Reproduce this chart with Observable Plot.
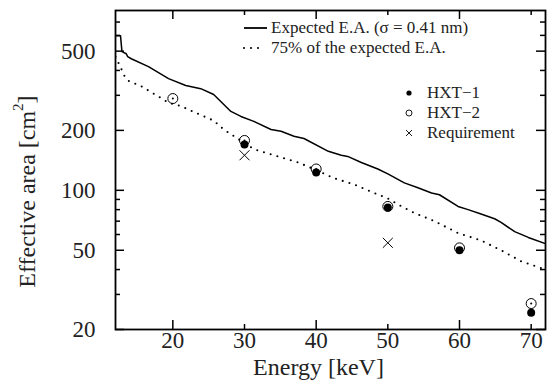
<!DOCTYPE html>
<html><head><meta charset="utf-8">
<script src="https://cdn.jsdelivr.net/npm/d3@7"></script>
<script src="https://cdn.jsdelivr.net/npm/@observablehq/plot@0.6"></script>
<style>body{margin:0;background:#fff;} svg{display:block;}</style>
</head><body><div id="chart"></div>
<script>
// Expected effective area (solid line)
const expectedEnergy = [12.0,12.7,12.9,13.5,13.7,14.2,16.6,19.4,21.8,23.9,25.7,28.1,29.5,31.3,33.7,35.1,36.9,38.3,41.7,43.5,44.4,46.3,48.6,50.0,52.3,54.2,56.1,57.2,59.8,61.2,63.0,64.9,65.8,67.7,69.6,72.0];
const expectedArea   = [597,597,497,485,469,458,418,364,336,324,303,249,235,222,202,198,187,182,157,150,148,138,128,121,109,103,97,95,83,80,76,72,69,62,58,54];
// 75% of expected (dotted line)
const reducedEnergy = [12.0,12.8,13.3,13.8,15.6,18.4,19.4,21.1,23.2,25.7,27.1,31.3,34.1,37.5,40.3,42.5,45.3,48.1,50.0,51.9,53.7,56.5,59.8,63.0,65.8,68.6,72.0];
const reducedArea   = [469,408,372,355,333,290,275,265,245,224,202,161,150,138,125,115,107,97,91,83,77,70,61,56,50,44,40];
// Measurements
const hxt1Energy = [30,40,50,60,70];
const hxt1Area   = [170,123,82,50,24.3];
const hxt2Energy = [20,30,40,50,60,70];
const hxt2Area   = [289,178,128,83,51.4,27];
const reqEnergy = [30,50];
const reqArea   = [150,54.5];
// Ticks
const xTickLabels = [20,30,40,50,60,70];
const xMajorTicks = [20,40,60];
const xMinorTicks = [30,50,70];
const yTickLabels = [20,50,100,200,500];
const yMinorTicks = [30,40,60,70,80,90,300,400,600,700];
const legendLines = ["Expected E.A. (σ = 0.41 nm)","75% of the expected E.A."];
const legendPoints = ["HXT−1","HXT−2","Requirement"];

const W = 547, H = 390, mL = 115, mR = 2, mT = 10, mB = 61;
const pW = W - mL - mR, pH = H - mT - mB;
const font = "Liberation Serif";

const expected = expectedEnergy.map((e,i)=>({e, a: expectedArea[i]}));
const reduced = reducedEnergy.map((e,i)=>({e, a: reducedArea[i]}));
const hxt1 = hxt1Energy.map((e,i)=>({e, a: hxt1Area[i]}));
const hxt2 = hxt2Energy.map((e,i)=>({e, a: hxt2Area[i]}));
const req = reqEnergy.map((e,i)=>({e, a: reqArea[i]}));

const tickStyle = {stroke:"black", strokeWidth:1.5};
const svg = Plot.plot({
  width: W, height: H,
  marginLeft: mL, marginRight: mR, marginTop: mT, marginBottom: mB,
  style: {fontFamily: font, background: "white", color: "black"},
  x: {domain: [12,72], axis: null},
  y: {type: "log", domain: [20,800], axis: null},
  marks: [
    Plot.line(expected, {x:"e", y:"a", stroke:"black", strokeWidth:1.5, clip:true}),
    Plot.line(reduced, {x:"e", y:"a", stroke:"black", strokeWidth:2.1, strokeDasharray:"0 7", strokeLinecap:"round", clip:true}),
    Plot.dot(hxt2, {x:"e", y:"a", r:5, stroke:"black", strokeWidth:1, fill:"none"}),
    Plot.dot(hxt2, {x:"e", y:"a", r:1, fill:"black"}),
    Plot.dot(hxt1, {x:"e", y:"a", r:4, fill:"black"}),
    Plot.dot(req, {x:"e", y:"a", symbol:"times", r:4.6, stroke:"black", strokeWidth:1}),
    // ticks
    Plot.tickX(xMajorTicks, {x:d=>d, insetTop: pH-9, ...tickStyle}),
    Plot.tickX(xMajorTicks, {x:d=>d, insetBottom: pH-9, ...tickStyle}),
    Plot.tickX(xMinorTicks, {x:d=>d, insetTop: pH-5, ...tickStyle}),
    Plot.tickX(xMinorTicks, {x:d=>d, insetBottom: pH-5, ...tickStyle}),
    Plot.tickY(yTickLabels, {y:d=>d, insetRight: pW-9, ...tickStyle}),
    Plot.tickY(yTickLabels, {y:d=>d, insetLeft: pW-9, ...tickStyle}),
    Plot.tickY(yMinorTicks, {y:d=>d, insetRight: pW-5, ...tickStyle}),
    Plot.tickY(yMinorTicks, {y:d=>d, insetLeft: pW-5, ...tickStyle}),
    Plot.frame({stroke:"black", strokeWidth:1.8}),
    // tick labels
    Plot.text(xTickLabels, {x:d=>d, text:d=>String(d), frameAnchor:"bottom", dy:18, fontSize:23, fontFamily:font, fill:"#222"}),
    Plot.text(yTickLabels, {y:d=>d, text:d=>String(d), frameAnchor:"left", textAnchor:"end", dx:-20, fontSize:23, fontFamily:font, fill:"#222"}),
    // axis titles
    Plot.text(["Energy [keV]"], {frameAnchor:"bottom", dy:45, dx:-12, fontSize:24, fontFamily:font, fill:"#222"}),
  ]
});

const s = d3.select(svg);
// y axis title with superscript
const yt = s.append("text")
  .attr("transform", `translate(27,${mT + pH/2 + 22}) rotate(-90)`)
  .attr("text-anchor","middle").attr("dy","0.32em")
  .attr("font-family", font).attr("font-size", 24).attr("fill","#222");
yt.append("tspan").text("Effective area [cm");
yt.append("tspan").attr("font-size", 15).attr("dy","-0.75em").text("2");
yt.append("tspan").attr("dy","0.45em").text("]");

// legend
const lg = s.append("g").attr("font-family", font).attr("font-size", 17).attr("fill","#222").attr("text-anchor","start");
const ly = [28, 48];
lg.append("line").attr("x1",244).attr("x2",267).attr("y1",ly[0]).attr("y2",ly[0]).attr("stroke","black").attr("stroke-width",1.8);
lg.append("line").attr("x1",244).attr("x2",265).attr("y1",ly[1]).attr("y2",ly[1]).attr("stroke","black").attr("stroke-width",2.1).attr("stroke-dasharray","0 7").attr("stroke-linecap","round");
legendLines.forEach((t,i)=>lg.append("text").attr("x",271).attr("y",ly[i]).attr("dy","0.32em").text(t));
const py = [93,113,133];
lg.append("circle").attr("cx",409).attr("cy",py[0]).attr("r",2.6).attr("fill","black");
lg.append("circle").attr("cx",409).attr("cy",py[1]).attr("r",3).attr("fill","none").attr("stroke","black").attr("stroke-width",0.9);
lg.append("path").attr("d",`M406,${py[2]-3}L412,${py[2]+3}M406,${py[2]+3}L412,${py[2]-3}`).attr("stroke","black").attr("stroke-width",0.9);
legendPoints.forEach((t,i)=>lg.append("text").attr("x",427).attr("y",py[i]).attr("dy","0.32em").text(t));

document.getElementById("chart").appendChild(svg);
</script>
</body></html>
